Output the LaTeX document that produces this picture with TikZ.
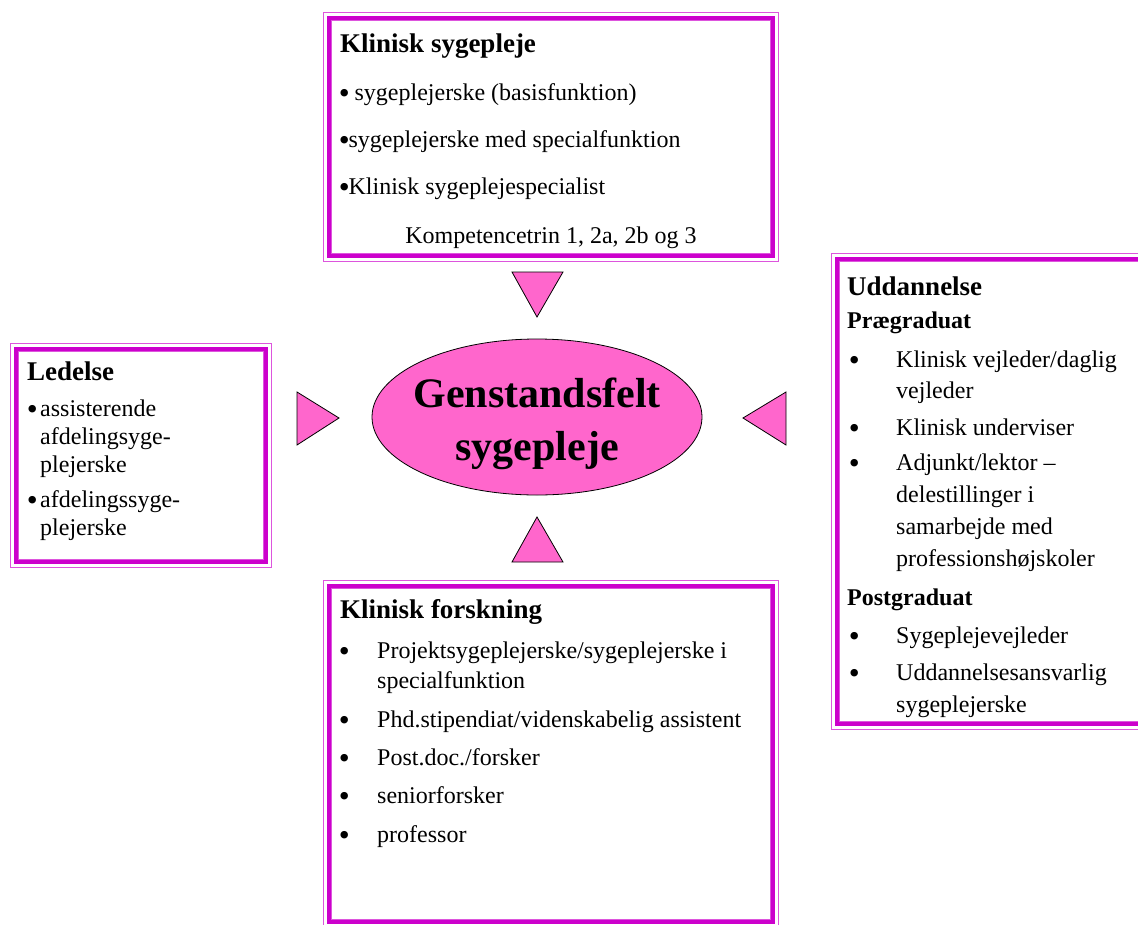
\documentclass[tikz,border=0pt]{standalone}
\usepackage{fontspec}
\usepackage{graphicx}
\setmainfont{Liberation Serif}
\usetikzlibrary{shapes.geometric}
\definecolor{mag}{HTML}{CC00CC}
\definecolor{magthin}{HTML}{DD55DD}
\definecolor{pinkfill}{HTML}{FF66CC}
\newcommand\magbox[4]{%
  \draw[magthin, line width=1.2pt] (#1+0.6,#2+0.6) rectangle (#3-0.6,#4-0.6);
  \draw[mag, line width=4pt] (#1+5.7,#2+5.7) rectangle (#3-5.7,#4-5.7);
  \draw[magthin, line width=1pt] (#1+8.8,#2+8.8) rectangle (#3-8.8,#4-8.8);
}
\newcommand\bigbul{\makebox[0.35em][c]{\raisebox{-3pt}{\scalebox{1.3}{•}}}}
\tikzset{
  txt/.style={anchor=base west, inner sep=0pt, font=\fontsize{24}{28}\selectfont},
  head/.style={anchor=base west, inner sep=0pt, font=\fontsize{27}{32}\selectfont\bfseries},
  sub/.style={anchor=base west, inner sep=0pt, font=\fontsize{24}{28}\selectfont\bfseries},
  bul/.style={anchor=base west, inner sep=0pt, font=\fontsize{24}{28}\selectfont},
  tri/.style={fill=pinkfill, draw=black, line width=0.8pt, line join=miter},
  core/.style={ellipse, draw=black, line width=0.8pt, fill=pinkfill, minimum width=330pt, minimum height=156pt, inner sep=0pt},
  coretxt/.style={anchor=base, inner sep=0pt, font=\fontsize{42}{50}\selectfont\bfseries}
}
\begin{document}
\begin{tikzpicture}[x=1pt,y=-1pt]
\useasboundingbox (0,0) rectangle (1138,924);
\clip (0,0) rectangle (1138,924);

% boxes
\magbox{323}{12}{779}{262}
\magbox{10}{343}{272}{568}
\magbox{831}{253}{1160}{730}
\magbox{323}{580}{779}{928}

% centre ellipse
\node[core] (core) at (537,417) {};
\node[coretxt] (core1) at (537,407) {Genstandsfelt};
\node[coretxt] (core2) at (537,460) {sygepleje};

% triangles
\filldraw[tri] (512,272) -- (563,272) -- (537,317) -- cycle;
\filldraw[tri] (512,562) -- (563,562) -- (537,517) -- cycle;
\filldraw[tri] (297,392) -- (297,445) -- (339,418) -- cycle;
\filldraw[tri] (786,392) -- (786,445) -- (743,418) -- cycle;

% top box
\node[head] (t0) at (340,52) {Klinisk sygepleje};
\node[txt] (t1) at (340,100) {\bigbul{} sygeplejerske (basisfunktion)};
\node[txt] (t2) at (340,147) {\bigbul{}sygeplejerske med specialfunktion};
\node[txt] (t3) at (340,194) {\bigbul{}Klinisk sygeplejespecialist};
\node[txt, anchor=base] (t4) at (551,243) {Kompetencetrin 1, 2a, 2b og 3};

% left box
\node[head] (l0) at (27,380) {Ledelse};
\node[bul] (lb1) at (28,416) {\bigbul};
\node[txt] (l1) at (40,416) {assisterende};
\node[txt] (l2) at (40,444) {afdelingsyge-};
\node[txt] (l3) at (40,472) {plejerske};
\node[bul] (lb2) at (28,507) {\bigbul};
\node[txt] (l4) at (40,507) {afdelingssyge-};
\node[txt] (l5) at (40,535) {plejerske};

% right box
\node[head] (r0) at (847,295) {Uddannelse};
\node[sub] (r1) at (847,328) {Prægraduat};
\node[bul] (rb1) at (850,367) {\bigbul};
\node[txt] (r2) at (896,367) {Klinisk vejleder/daglig};
\node[txt] (r3) at (896,398) {vejleder};
\node[bul] (rb2) at (850,435) {\bigbul};
\node[txt] (r4) at (896,435) {Klinisk underviser};
\node[bul] (rb3) at (850,470) {\bigbul};
\node[txt] (r5) at (896,470) {Adjunkt/lektor –};
\node[txt] (r6) at (896,502) {delestillinger i};
\node[txt] (r7) at (896,534) {samarbejde med};
\node[txt] (r8) at (896,566) {professionshøjskoler};
\node[sub] (r9) at (847,605) {Postgraduat};
\node[bul] (rb4) at (850,643) {\bigbul};
\node[txt] (r10) at (896,643) {Sygeplejevejleder};
\node[bul] (rb5) at (850,680) {\bigbul};
\node[txt] (r11) at (896,680) {Uddannelsesansvarlig};
\node[txt] (r12) at (896,712) {sygeplejerske};

% bottom box
\node[head] (b0) at (340,618) {Klinisk forskning};
\node[bul] (bb1) at (340,658) {\bigbul};
\node[txt] (b1) at (377,658) {Projektsygeplejerske/sygeplejerske i};
\node[txt] (b2) at (377,688) {specialfunktion};
\node[bul] (bb2) at (340,727) {\bigbul};
\node[txt] (b3) at (377,727) {Phd.stipendiat/videnskabelig assistent};
\node[bul] (bb3) at (340,765) {\bigbul};
\node[txt] (b4) at (377,765) {Post.doc./forsker};
\node[bul] (bb4) at (340,803) {\bigbul};
\node[txt] (b5) at (377,803) {seniorforsker};
\node[bul] (bb5) at (340,842) {\bigbul};
\node[txt] (b6) at (377,842) {professor};
\end{tikzpicture}
\end{document}
